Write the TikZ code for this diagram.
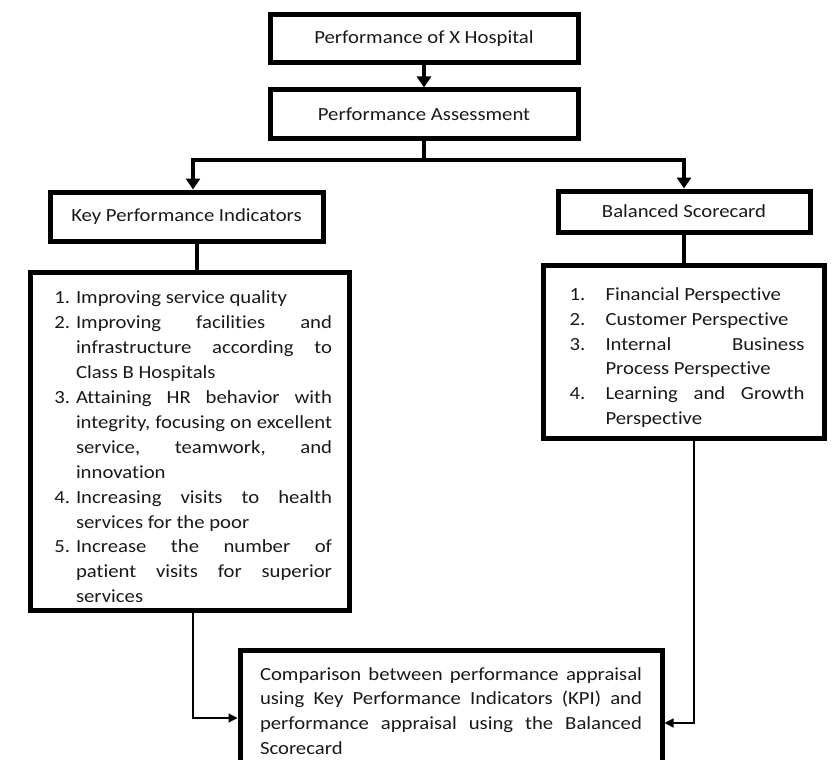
\documentclass[tikz,border=0pt]{standalone}
\usepackage{fontspec}
\setmainfont{Carlito}[Ligatures=NoCommon, FakeStretch=1.12]
\usepackage{enumitem}
\usetikzlibrary{arrows.meta, positioning}
\hyphenpenalty=10000
\tolerance=10000

\begin{document}
\begin{tikzpicture}[x=1pt,y=1pt,>={Triangle[length=11pt,width=14pt]},thick]
            \tikzset{box/.style={draw, line width=5pt, inner sep=0pt, align=center, text=black!90,
                font=\fontsize{18.5}{24.9}\selectfont}}
            \tikzset{listbox/.style={box, align=justify, inner xsep=10pt}}
            \tikzset{link/.style={line width=4pt}}
            \tikzset{thinlink/.style={line width=1.3pt, >={Triangle[length=9pt,width=9pt]}}}
            \clip (0,0) rectangle (833,-760);
            \node[box, minimum width=308pt, minimum height=48pt] (hosp) at (424,-39) {Performance of X Hospital};
            \node[box, minimum width=308pt, minimum height=48pt] (assess) [below=22pt of hosp] {Performance Assessment};
            \node[box, minimum width=273pt, minimum height=49pt] (kpi) at (186.5,-216.5) {Key Performance Indicators};
            \node[box, minimum width=252pt, minimum height=41pt] (bsc) at (684,-211.5) {Balanced Scorecard};
            \node[listbox, text width=299pt, minimum height=338pt] (kpilist) [below=26pt of kpi, xshift=3pt] {%
                \begin{enumerate}[leftmargin=36pt, rightmargin=7pt, labelsep=6pt, itemsep=0pt, parsep=0pt, topsep=0pt, partopsep=0pt]
                \item Improving service quality
                \item Improving facilities and\linebreak infrastructure according to\linebreak Class B Hospitals
                \item Attaining HR behavior with\linebreak integrity, focusing on excellent\linebreak service, teamwork, and\linebreak innovation
                \item Increasing visits to health\linebreak services for the poor
                \item Increase the number of\linebreak patient visits for superior\linebreak services
                \end{enumerate}};
            \node[listbox, text width=261pt, minimum width=281pt, minimum height=173pt] (bsclist) [below=28pt of bsc] {%
                \begin{enumerate}[leftmargin=52pt, rightmargin=10pt, labelsep=20pt, labelwidth=16pt, align=left, itemsep=0pt, parsep=0pt, topsep=0pt, partopsep=0pt]
                \item Financial Perspective
                \item Customer Perspective
                \item Internal Business\linebreak Process Perspective
                \item Learning and Growth\linebreak Perspective
                \end{enumerate}};
            \node[listbox, text width=382pt, inner xsep=20pt, minimum height=122pt] (compare) at (451,-711) {%
                Comparison between performance appraisal\linebreak using Key Performance Indicators (KPI) and\linebreak performance appraisal using the Balanced\linebreak Scorecard};
            % top of the chart
            \draw[->, link] (hosp.south) -- (hosp.south |- assess.north);
            \draw[link] (assess.south) -- ++(0,-19.5) coordinate (split);
            \draw[->, link] (split) -| ([xshift=6.5pt]kpi.north);
            \draw[->, link] (split) -| (bsc.north);
            \draw[link] ([xshift=10.5pt]kpi.south) -- ([xshift=10.5pt]kpi.south |- kpilist.north);
            \draw[link] (bsc.south) -- (bsc.south |- bsclist.north);
            % into the comparison
            \draw[->, thinlink] ([xshift=3.5pt]kpilist.south) |- ([yshift=-7pt]compare.west);
            \draw[->, thinlink] ([xshift=10pt]bsclist.south) |- ([yshift=-12pt]compare.east);
        \end{tikzpicture}
\end{document}
